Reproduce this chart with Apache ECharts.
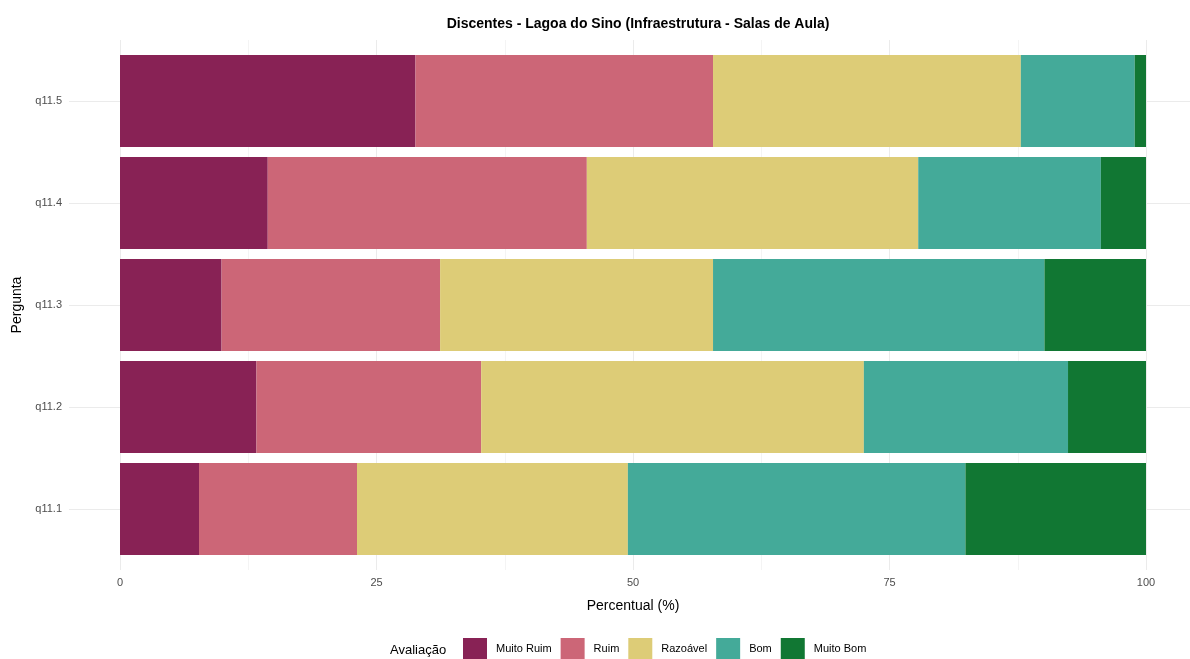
<!DOCTYPE html>
<html><head><meta charset="utf-8">
<script src="https://cdn.jsdelivr.net/npm/echarts@6/dist/echarts.min.js"></script>
<style>html,body{margin:0;padding:0;background:#fff}#c{width:1190px;height:659px}</style>
</head><body><div id="c"></div>
<script>
const categories = ['q11.1', 'q11.2', 'q11.3', 'q11.4', 'q11.5'];
const seriesNames = ['Muito Ruim', 'Ruim', 'Razoável', 'Bom', 'Muito Bom'];
const muitoRuim = [7.7, 13.3, 9.9, 14.4, 28.8];
const ruim = [15.4, 21.9, 21.3, 31.1, 29.0];
const razoavel = [26.4, 37.3, 26.6, 32.3, 30.0];
const bom = [32.9, 19.9, 32.3, 17.8, 11.1];
const muitoBom = [17.6, 7.6, 9.9, 4.4, 1.1];
const xTicks = [0, 25, 50, 75, 100];
const colors = ['#882255', '#CC6677', '#DDCC77', '#44AA99', '#117733'];
const values = [muitoRuim, ruim, razoavel, bom, muitoBom];

const chart = echarts.init(document.getElementById('c'));
const font = 'Liberation Sans, Arial, sans-serif';
chart.setOption({
  animation: false,
  textStyle: { fontFamily: font },
  title: {
    text: 'Discentes - Lagoa do Sino (Infraestrutura - Salas de Aula)',
    left: 633, top: 12, textAlign: 'center',
    textStyle: { fontSize: 14, fontWeight: 'bold', color: '#000', fontFamily: font }
  },
  grid: [
    { left: 120, width: 1026, top: 50, height: 510 },
    { left: 120, width: 1026, top: 40, height: 530, z: -1 }
  ],
  xAxis: [
    {
      gridIndex: 0, type: 'value', min: 0, max: 100, interval: 25,
      axisLine: { show: false }, axisTick: { show: false },
      splitLine: { show: false },
      axisLabel: { margin: 17, fontSize: 11, color: '#4d4d4d', formatter: v => xTicks.includes(v) ? String(v) : '' },
      name: 'Percentual (%)', nameLocation: 'middle', nameGap: 39,
      nameTextStyle: { fontSize: 14, color: '#000' }
    },
    {
      gridIndex: 1, type: 'value', min: 0, max: 100, interval: 25,
      axisLine: { show: false }, axisTick: { show: false }, axisLabel: { show: false },
      splitLine: { show: true, lineStyle: { color: '#ebebeb', width: 1 } },
      minorTick: { show: false, splitNumber: 2 },
      minorSplitLine: { show: true, lineStyle: { color: '#f4f4f4', width: 1 } }
    }
  ],
  yAxis: [
    {
      gridIndex: 0, type: 'category', data: categories,
      axisLine: { show: false },
      axisTick: { show: true, alignWithLabel: true, length: 51, lineStyle: { color: '#ebebeb' } },
      axisLabel: { margin: 58, fontSize: 11, color: '#4d4d4d' },
      name: 'Pergunta', nameLocation: 'middle', nameGap: 96, nameRotate: 90,
      nameTextStyle: { fontSize: 14, color: '#000' }
    },
    {
      gridIndex: 0, type: 'category', data: categories, position: 'right',
      axisLine: { show: false },
      axisTick: { show: true, alignWithLabel: true, length: 44, lineStyle: { color: '#ebebeb' } },
      axisLabel: { show: false }
    },
    {
      gridIndex: 1, type: 'category', data: categories, show: false
    }
  ],
  legend: {
    left: 463, top: 638, padding: 0, itemWidth: 24, itemHeight: 21, itemGap: 9,
    icon: 'rect',
    data: seriesNames,
    textStyle: { fontSize: 11, color: '#000', padding: [0, 0, 0, 4] }
  },
  graphic: [{
    type: 'text', left: 390, top: 644,
    style: { text: 'Avaliação', fontSize: 13, fill: '#000', fontFamily: font }
  }],
  series: seriesNames.map((n, i) => ({
    name: n, type: 'bar', stack: 'total', xAxisIndex: 0, yAxisIndex: 0,
    barWidth: '90%', data: values[i], itemStyle: { color: colors[i] }
  }))
});
</script></body></html>
